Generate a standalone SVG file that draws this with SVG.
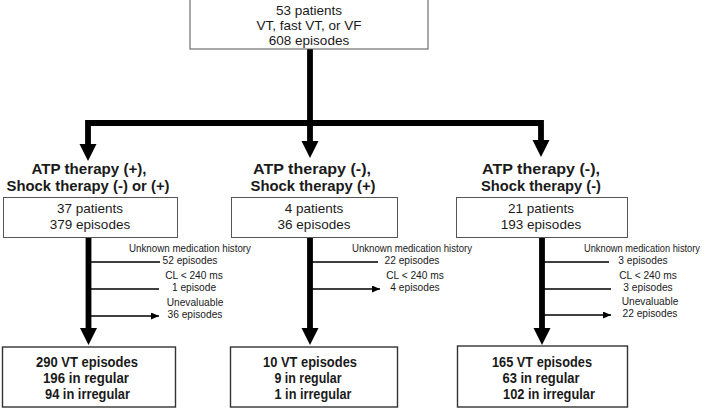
<svg xmlns="http://www.w3.org/2000/svg" width="709" height="408" viewBox="0 0 709 408">
<style>
text{font-family:"Liberation Sans",Arial,sans-serif;fill:#1a1a1a;text-anchor:middle}
.box{fill:#fff;stroke:#555;stroke-width:1}
.fbox{fill:#fff;stroke:#333;stroke-width:1.4}
.t{font-size:13.5px}
.h{font-size:15.5px;font-weight:bold}
.b{font-size:15px;font-weight:bold}
.s{font-size:10.2px}
.thick{stroke:#000;stroke-width:5.8;fill:none}
.thin{stroke:#000;stroke-width:1.6;fill:none}
.head{fill:#000}
</style>
<defs>
<marker id="sa" viewBox="0 0 8 7" refX="8" refY="3.5" markerWidth="8" markerHeight="7" markerUnits="userSpaceOnUse" orient="auto">
<path d="M0,0 L8,3.5 L0,7 Z" fill="#000"/>
</marker>
</defs>

<g id="connectors">
<path class="thick" d="M310,49 V123 M85.1,123 H543.9 M88,123 V146 M310,123 V143 M541,123 V143"/>
<path class="head" d="M79.5,144 H96.5 L88,161 Z"/>
<path class="head" d="M301.5,141 H318.5 L310,158 Z"/>
<path class="head" d="M532.5,140 H549.5 L541,157 Z"/>
<path class="thick" d="M88.5,237 V330 M310,237 V330 M542,237 V330"/>
<path class="head" d="M80,328 H97 L88.5,345 Z"/>
<path class="head" d="M301.5,328 H318.5 L310,345 Z"/>
<path class="head" d="M533.5,328 H550.5 L542,345 Z"/>
<path class="thin" marker-end="url(#sa)" d="M88.5,262 H160 M88.5,289 H159 M88.5,316 H159"/>
<path class="thin" marker-end="url(#sa)" d="M310,262 H378 M310,289 H380"/>
<path class="thin" marker-end="url(#sa)" d="M542,262 H609 M542,289 H611 M542,315 H611"/>
</g>

<g id="top">
<rect class="box" x="190" y="-1" width="238" height="50"/>
<text class="t" x="309" y="15">53 patients</text>
<text class="t" x="309" y="30">VT, fast VT, or VF</text>
<text class="t" x="309" y="45">608 episodes</text>
</g>

<g id="left-group">
<text class="h" x="89" y="174" textLength="115" lengthAdjust="spacingAndGlyphs">ATP therapy (+),</text>
<text class="h" x="88" y="191" textLength="163" lengthAdjust="spacingAndGlyphs">Shock therapy (-) or (+)</text>
<rect class="box" x="3.5" y="197.5" width="174" height="40"/>
<text class="t" x="90" y="213">37 patients</text>
<text class="t" x="90" y="229">379 episodes</text>
</g>

<g id="mid-group">
<text class="h" x="312" y="174" textLength="118" lengthAdjust="spacingAndGlyphs">ATP therapy (-),</text>
<text class="h" x="313" y="191" textLength="125" lengthAdjust="spacingAndGlyphs">Shock therapy (+)</text>
<rect class="box" x="231.5" y="197.5" width="166" height="40"/>
<text class="t" x="314" y="213">4 patients</text>
<text class="t" x="314" y="229">36 episodes</text>
</g>

<g id="right-group">
<text class="h" x="541" y="174" textLength="118" lengthAdjust="spacingAndGlyphs">ATP therapy (-),</text>
<text class="h" x="541" y="191" textLength="120" lengthAdjust="spacingAndGlyphs">Shock therapy (-)</text>
<rect class="box" x="456.5" y="197.5" width="171" height="40"/>
<text class="t" x="541" y="213">21 patients</text>
<text class="t" x="541" y="229">193 episodes</text>
</g>

<g id="left-exclusions">
<text class="s" x="190" y="252" textLength="122" lengthAdjust="spacingAndGlyphs">Unknown medication history</text>
<text class="s" x="190" y="264">52 episodes</text>
<text class="s" x="194" y="279">CL &lt; 240 ms</text>
<text class="s" x="194" y="291">1 episode</text>
<text class="s" x="195" y="306">Unevaluable</text>
<text class="s" x="195" y="318">36 episodes</text>
</g>

<g id="mid-exclusions">
<text class="s" x="412" y="252" textLength="120" lengthAdjust="spacingAndGlyphs">Unknown medication history</text>
<text class="s" x="412" y="264">22 episodes</text>
<text class="s" x="415" y="279">CL &lt; 240 ms</text>
<text class="s" x="415" y="291">4 episodes</text>
</g>

<g id="right-exclusions">
<text x="642" y="252" style="font-size:10px" textLength="116" lengthAdjust="spacingAndGlyphs">Unknown medication history</text>
<text class="s" x="643" y="264">3 episodes</text>
<text class="s" x="648" y="279">CL &lt; 240 ms</text>
<text class="s" x="648" y="291">3 episodes</text>
<text class="s" x="650" y="305">Unevaluable</text>
<text class="s" x="650" y="317">22 episodes</text>
</g>

<g id="left-result">
<rect class="fbox" x="2.5" y="347" width="173" height="60"/>
<text class="b" x="87" y="367" textLength="102" lengthAdjust="spacingAndGlyphs">290 VT episodes</text>
<text class="b" x="86" y="383" textLength="86" lengthAdjust="spacingAndGlyphs">196 in regular</text>
<text class="b" x="87.5" y="399" textLength="85" lengthAdjust="spacingAndGlyphs">94 in irregular</text>
</g>

<g id="mid-result">
<rect class="fbox" x="230.5" y="347" width="167" height="60"/>
<text class="b" x="310" y="367" textLength="94" lengthAdjust="spacingAndGlyphs">10 VT episodes</text>
<text class="b" x="308" y="383" textLength="67" lengthAdjust="spacingAndGlyphs">9 in regular</text>
<text class="b" x="313" y="399" textLength="77" lengthAdjust="spacingAndGlyphs">1 in irregular</text>
</g>

<g id="right-result">
<rect class="fbox" x="457.5" y="346" width="170" height="61"/>
<text class="b" x="542" y="367" textLength="100" lengthAdjust="spacingAndGlyphs">165 VT episodes</text>
<text class="b" x="541" y="383" textLength="77" lengthAdjust="spacingAndGlyphs">63 in regular</text>
<text class="b" x="549" y="399" textLength="92" lengthAdjust="spacingAndGlyphs">102 in irregular</text>
</g>
</svg>
